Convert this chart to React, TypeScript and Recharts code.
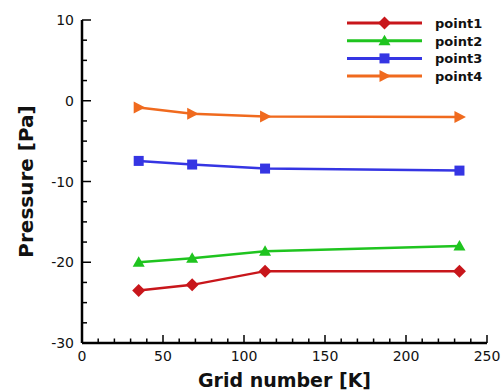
import React from "react";
import { LineChart, Line, XAxis, YAxis, Legend } from "recharts";

// grid sizes (thousands of cells)
const gridNumbers = [35, 68, 113, 233];

const point1 = [-23.5, -22.8, -21.1, -21.1];
const point2 = [-20.0, -19.5, -18.65, -18.0];
const point3 = [-7.45, -7.9, -8.4, -8.65];
const point4 = [-0.85, -1.6, -1.95, -2.0];

const xTicks = [0, 10, 20, 30, 40, 50, 60, 70, 80, 90, 100, 110, 120, 130, 140, 150, 160, 170, 180, 190, 200, 210, 220, 230, 240, 250];
const xLabels = [0, 50, 100, 150, 200, 250];
const yTicks = [-30, -27.5, -25, -22.5, -20, -17.5, -15, -12.5, -10, -7.5, -5, -2.5, 0, 2.5, 5, 7.5, 10];
const yLabels = [-30, -20, -10, 0, 10];

const data = gridNumbers.map((g, i) => ({
  grid: g,
  point1: point1[i],
  point2: point2[i],
  point3: point3[i],
  point4: point4[i],
}));

const seriesList = [
  { key: "point1", color: "#C8161B", shape: "diamond" },
  { key: "point2", color: "#1FC41F", shape: "triangle" },
  { key: "point3", color: "#3535E3", shape: "square" },
  { key: "point4", color: "#F06A1E", shape: "arrow" },
];

const FONT = "'DejaVu Sans', Arial, sans-serif";

const Marker = ({ cx, cy, shape, color }) => {
  if (cx == null || cy == null) return null;
  if (shape === "diamond") {
    return <polygon points={`${cx},${cy - 6.5} ${cx + 6.5},${cy} ${cx},${cy + 6.5} ${cx - 6.5},${cy}`} fill={color} />;
  }
  if (shape === "triangle") {
    return <polygon points={`${cx},${cy - 6} ${cx + 6},${cy + 4.5} ${cx - 6},${cy + 4.5}`} fill={color} />;
  }
  if (shape === "square") {
    return <rect x={cx - 5} y={cy - 5} width={10} height={10} fill={color} />;
  }
  return <polygon points={`${cx + 6.5},${cy} ${cx - 5},${cy - 6} ${cx - 5},${cy + 6}`} fill={color} />;
};

const XTick = (props) => {
  const { x, y, payload } = props;
  const major = xLabels.includes(payload.value);
  return (
    <g>
      <line x1={x} x2={x} y1={y} y2={y - (major ? 8 : 4.5)} stroke="#000" strokeWidth={1.5} />
      {major && (
        <text x={x} y={y + 18} textAnchor="middle" fontSize={14} fontFamily={FONT} fill="#111">
          {payload.value}
        </text>
      )}
    </g>
  );
};

const YTick = (props) => {
  const { x, y, payload } = props;
  const major = yLabels.includes(payload.value);
  return (
    <g>
      <line x1={x} x2={x + (major ? 9 : 5)} y1={y} y2={y} stroke="#000" strokeWidth={1.5} />
      {major && (
        <text x={x - 8} y={y + 5} textAnchor="end" fontSize={14} fontFamily={FONT} fill="#111">
          {payload.value}
        </text>
      )}
    </g>
  );
};

const YTitle = (props) => {
  const { viewBox } = props;
  const cy = viewBox.y + viewBox.height / 2;
  return (
    <text
      x={26}
      y={cy}
      transform={`rotate(-90, 26, ${cy})`}
      textAnchor="middle"
      dominantBaseline="central"
      fontSize={20}
      fontWeight="bold"
      fontFamily={FONT}
      fill="#111"
    >
      Pressure [Pa]
    </text>
  );
};

const renderLegend = () => (
  <svg width={150} height={76}>
    {seriesList.map((s, i) => {
      const cy = 9 + i * 17.7;
      return (
        <g key={s.key}>
          <line x1={2} x2={77} y1={cy} y2={cy} stroke={s.color} strokeWidth={3} />
          <Marker cx={39.5} cy={cy} shape={s.shape} color={s.color} />
          <text x={90} y={cy + 5} fontSize={13} fontWeight="bold" fontFamily={FONT} fill="#111">
            {s.key}
          </text>
        </g>
      );
    })}
  </svg>
);

export default function App() {
  return (
    <div style={{ position: "absolute", left: 0, top: 0, width: 504, height: 391, background: "#fff" }}>
      <LineChart width={504} height={391} data={data} margin={{ top: 20, right: 17, bottom: 0, left: 0 }}>
        <XAxis
          dataKey="grid"
          type="number"
          domain={[0, 250]}
          ticks={xTicks}
          interval={0}
          height={48}
          tickSize={0}
          tickMargin={0}
          tickLine={false}
          tick={XTick}
          axisLine={{ stroke: "#000", strokeWidth: 2.5 }}
          label={{
            value: "Grid number [K]",
            position: "insideBottom",
            offset: 4,
            style: { fontSize: 19, fontWeight: "bold", fontFamily: FONT, fill: "#111" },
          }}
        />
        <YAxis
          type="number"
          domain={[-30, 10]}
          ticks={yTicks}
          interval={0}
          width={82}
          tickSize={0}
          tickMargin={0}
          tickLine={false}
          tick={YTick}
          axisLine={{ stroke: "#000", strokeWidth: 2.5 }}
          label={<YTitle />}
        />
        <Legend
          layout="vertical"
          align="center"
          verticalAlign="middle"
          content={renderLegend}
          wrapperStyle={{ top: 14, left: 345, width: 150, height: 76 }}
        />
        {seriesList.map((s) => (
          <Line
            key={s.key}
            dataKey={s.key}
            type="linear"
            stroke={s.color}
            strokeWidth={2.5}
            isAnimationActive={false}
            dot={(p) => <Marker key={`${s.key}-${p.index}`} cx={p.cx} cy={p.cy} shape={s.shape} color={s.color} />}
            activeDot={false}
          />
        ))}
      </LineChart>
    </div>
  );
}
